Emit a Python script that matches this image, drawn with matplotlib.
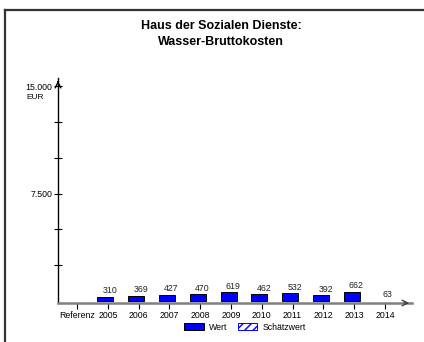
import matplotlib.pyplot as plt
from matplotlib.lines import Line2D
from matplotlib.patches import Patch

plt.rcParams["font.family"] = ["Liberation Sans", "DejaVu Sans"]

# data
categories = ["Referenz", "2005", "2006", "2007", "2008", "2009",
              "2010", "2011", "2012", "2013", "2014"]
wert = [0, 310, 369, 427, 470, 619, 462, 532, 392, 662, 0]
schaetzwert = [0, 0, 0, 0, 0, 0, 0, 0, 0, 0, 63]
labels = ["", "310", "369", "427", "470", "619", "462", "532", "392", "662", "63"]
ytick_vals = [2500, 5000, 7500, 10000, 12500, 15000]

fig = plt.figure(figsize=(4.24, 3.42), dpi=100)
ax = fig.add_axes([58 / 424, 39 / 342, (412 - 58) / 424, (303 - 78) / 342])

x = list(range(len(categories)))
bar_x = [i - 0.08 for i in x]
w_x = [bx for bx, v in zip(bar_x, wert) if v > 0]
w_v = [v for v in wert if v > 0]
s_x = [bx for bx, v in zip(bar_x, schaetzwert) if v > 0]
s_v = [v for v in schaetzwert if v > 0]
ax.bar(w_x, w_v, width=0.52, color="#0000ff", edgecolor="black", linewidth=0.7)
ax.bar(s_x, s_v, width=0.52, color="white", edgecolor="white", linewidth=0)

totals = [a + b for a, b in zip(wert, schaetzwert)]
for i, (v, lab) in enumerate(zip(totals, labels)):
    if lab:
        ax.annotate(lab, (i + 0.07, v), xytext=(0, 1), textcoords="offset points",
                    ha="center", va="bottom", fontsize=6.3, color="#222222")

ax.set_xlim(-0.62, 10.88)
ax.set_ylim(-140, 15560)

ax.set_xticks(x)
ax.set_xticklabels(categories, fontsize=6.3)
ax.set_yticks(ytick_vals)
ax.set_yticklabels(["", "", "7.500", "", "", "15.000"], fontsize=6.3)
ax.tick_params(axis="y", direction="inout", length=6, width=0.8, pad=1)
ax.tick_params(axis="x", direction="out", length=4, width=0.8, pad=2)

for s in ["top", "right"]:
    ax.spines[s].set_visible(False)
ax.spines["left"].set_linewidth(1.0)
ax.spines["bottom"].set_color("#808080")
ax.spines["bottom"].set_linewidth(1.8)

# axis arrows
ax.annotate("", xy=(0, 1.0), xytext=(0, 0.97), xycoords="axes fraction",
            arrowprops=dict(arrowstyle="->", color="black", lw=1.0))
ax.annotate("", xy=(1.0, 0), xytext=(0.97, 0), xycoords="axes fraction",
            arrowprops=dict(arrowstyle="->", color="#404040", lw=1.0))

fig.text(35 / 424, 1 - 98 / 342, "EUR", ha="center", va="center", fontsize=6)

# legend
handles = [Patch(facecolor="#0000ff", edgecolor="black", linewidth=0.7),
           Patch(facecolor="white", edgecolor="#0000ff", hatch="////", linewidth=0.7)]
fig.legend(handles, ["Wert", "Schätzwert"], loc="center", bbox_to_anchor=(245 / 424, 1 - 327 / 342),
           ncol=2, frameon=False, fontsize=6.3, handlelength=2.2, handleheight=0.8,
           columnspacing=1.2, handletextpad=0.6)

fig.text(221 / 424, 1 - 34 / 342, "Haus der Sozialen Dienste:\nWasser-Bruttokosten",
         ha="center", va="center", fontsize=9, fontweight="bold", linespacing=1.35)

# outer frame
fig.add_artist(Line2D([5 / 424, 1], [1 - 10 / 342, 1 - 10 / 342], color="#333333", lw=1.6))
fig.add_artist(Line2D([5 / 424, 5 / 424], [0, 1 - 10 / 342], color="#333333", lw=1.6))

fig.savefig("out.png", dpi=100)
